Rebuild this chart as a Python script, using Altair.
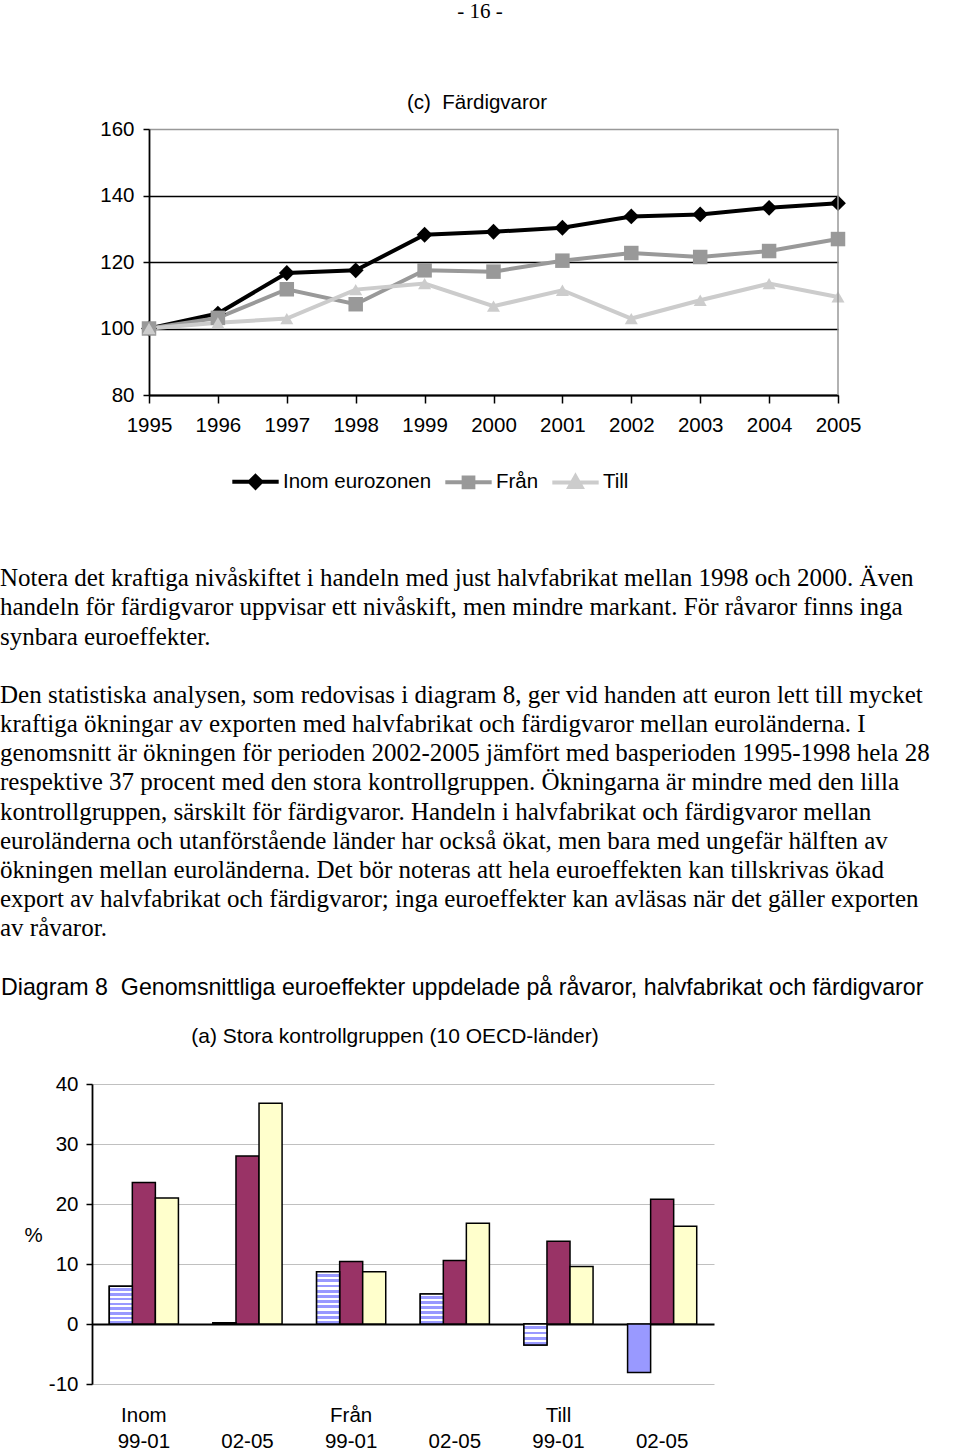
import altair as alt
import pandas as pd

SANS = "Liberation Sans"
SERIF = "Liberation Serif"

# ---------------- data: line chart (c) Färdigvaror ----------------
years = ["1995", "1996", "1997", "1998", "1999", "2000", "2001", "2002", "2003", "2004", "2005"]
inom = [100, 104.5, 116.7, 117.5, 128.2, 129.1, 130.3, 133.7, 134.3, 136.3, 137.7]
fran = [100, 103.2, 111.8, 107.3, 117.5, 117.1, 120.4, 122.7, 121.5, 123.3, 126.9]
till = [100, 101.7, 103.0, 111.7, 113.5, 106.7, 111.5, 103.0, 108.5, 113.5, 109.5]
series_names = ["Inom eurozonen", "Från", "Till"]
series_colors = ["#000000", "#999999", "#cccccc"]
series_shapes = ["diamond", "square", "triangle-up"]
series_sizes = [250, 170, 230]
legend_paths = [
    "M-1,0L1,0M0,-0.25L0.25,0L0,0.25L-0.25,0Z",
    "M-1,0L1,0M-0.21,-0.21L0.21,-0.21L0.21,0.21L-0.21,0.21Z",
    "M-1,0L1,0M0,-0.26L0.26,0.2L-0.26,0.2Z",
]
y_ticks_line = [80, 100, 120, 140, 160]

# ---------------- data: bar chart Diagram 8 (a) ----------------
groups = ["Inom|99-01", "Inom|02-05", "Från|99-01", "Från|02-05", "Till|99-01", "Till|02-05"]
kinds = ["Råvaror", "Halvfabrikat", "Färdigvaror"]
ravaror = [6.3, 0.2, 8.7, 5.0, -3.5, -8.1]
halvfabrikat = [23.6, 28.0, 10.4, 10.6, 13.8, 20.8]
fardigvaror = [21.0, 36.8, 8.7, 16.8, 9.6, 16.3]
ravaror_striped = [True, True, True, True, True, False]
kind_colors = ["#9999ff", "#993366", "#ffffcc"]
y_ticks_bar = [-10, 0, 10, 20, 30, 40]

# ---------------- texts ----------------
page_number = "- 16 -"
line_title = "(c)\u00a0 Färdigvaror"
para1 = [
    "Notera det kraftiga nivåskiftet i handeln med just halvfabrikat mellan 1998 och 2000. Även",
    "handeln för färdigvaror uppvisar ett nivåskift, men mindre markant. För råvaror finns inga",
    "synbara euroeffekter.",
]
para2 = [
    "Den statistiska analysen, som redovisas i diagram 8, ger vid handen att euron lett till mycket",
    "kraftiga ökningar av exporten med halvfabrikat och färdigvaror mellan euroländerna. I",
    "genomsnitt är ökningen för perioden 2002-2005 jämfört med basperioden 1995-1998 hela 28",
    "respektive 37 procent med den stora kontrollgruppen. Ökningarna är mindre med den lilla",
    "kontrollgruppen, särskilt för färdigvaror. Handeln i halvfabrikat och färdigvaror mellan",
    "euroländerna och utanförstående länder har också ökat, men bara med ungefär hälften av",
    "ökningen mellan euroländerna. Det bör noteras att hela euroeffekten kan tillskrivas ökad",
    "export av halvfabrikat och färdigvaror; inga euroeffekter kan avläsas när det gäller exporten",
    "av råvaror.",
]
diagram_title = "Diagram 8\u00a0 Genomsnittliga euroeffekter uppdelade på råvaror, halvfabrikat och färdigvaror"
bar_title = "(a) Stora kontrollgruppen (10 OECD-länder)"

# ================= line chart =================
line_rows = []
for name, vals in zip(series_names, [inom, fran, till]):
    for yr, v in zip(years, vals):
        line_rows.append({"series": name, "year": yr, "value": v})
line_df = pd.DataFrame(line_rows)

x_line_scale = alt.Scale(type="point", domain=years, range=[149, 838], padding=0)
y_line_scale = alt.Scale(domain=[80, 160], range=[395, 129], nice=False, zero=False)
x_line_axis = alt.Axis(orient="bottom", offset=-1055, title=None, labelAngle=0,
                       labelFont=SANS, labelFontSize=20.5, labelColor="black", labelPadding=12,
                       tickSize=8, tickColor="black", tickWidth=1.5,
                       domainColor="black", domainWidth=1.8, grid=False)
y_line_axis = alt.Axis(orient="left", offset=-149, title=None, values=y_ticks_line,
                       labelFont=SANS, labelFontSize=20.5, labelColor="black", labelPadding=9,
                       tickSize=6, tickColor="black", tickWidth=1.5,
                       domainColor="black", domainWidth=1.8, grid=True,
                       gridColor=alt.condition("datum.value === 160", alt.value("#999999"), alt.value("black")),
                       gridWidth=1.6)

X_line = alt.X("year:O", scale=x_line_scale, axis=x_line_axis)
Y_line = alt.Y("value:Q", scale=y_line_scale, axis=y_line_axis)
color_line = alt.Color("series:N", scale=alt.Scale(domain=series_names, range=series_colors), legend=None)

base_line = alt.Chart(line_df)
lines = base_line.mark_line(strokeWidth=4).encode(x=X_line, y=Y_line, color=color_line)
points = base_line.mark_point(filled=True, opacity=1).encode(
    x=X_line, y=Y_line, color=color_line,
    shape=alt.Shape("series:N", scale=alt.Scale(domain=series_names, range=series_shapes), legend=None),
    size=alt.Size("series:N", scale=alt.Scale(domain=series_names, range=series_sizes), legend=None),
)
frame = alt.Chart(alt.Data(values=[{"edge": "right"}])).mark_rule(color="#999999", strokeWidth=1.5).encode(
    x=alt.XDatum("2005", type="ordinal", scale=x_line_scale, axis=x_line_axis),
    y=alt.YDatum(80, scale=y_line_scale, axis=y_line_axis),
    y2=alt.Y2Datum(160),
)
line_chart = alt.layer(lines, points, frame)

# legend (only the legend is drawn from this layer)
legend_def = alt.Legend(orient="none", legendX=230, legendY=456, direction="horizontal", title=None,
                        labelFont=SANS, labelFontSize=20.5, labelColor="black", labelOffset=2,
                        symbolSize=2150, symbolStrokeWidth=4, columnPadding=5, padding=0)
legend_layer = alt.Chart(pd.DataFrame({"series": series_names})).transform_filter("false").mark_point(
    filled=True, size=2150, strokeWidth=4, opacity=1
).encode(
    fill=alt.Fill("series:N", scale=alt.Scale(domain=series_names, range=series_colors), legend=legend_def),
    stroke=alt.Stroke("series:N", scale=alt.Scale(domain=series_names, range=series_colors), legend=legend_def),
    shape=alt.Shape("series:N", scale=alt.Scale(domain=series_names, range=legend_paths), legend=legend_def),
)

# ================= bar chart =================
bar_rows = []
for gi, g in enumerate(groups):
    for k, vals in zip(kinds, [ravaror, halvfabrikat, fardigvaror]):
        striped = (k == kinds[0]) and ravaror_striped[gi]
        bar_rows.append({"group": g, "kind": k, "value": vals[gi], "striped": striped})
bar_df = pd.DataFrame(bar_rows)

x_bar_scale = alt.Scale(domain=groups, range=[92, 714], paddingInner=0.333, paddingOuter=0.1667)
x_bar_axis = alt.Axis(orient="bottom", offset=-66, title=None, labelAngle=0, domain=False, ticks=False,
                      tickSize=0, grid=False, labelFont=SANS, labelFontSize=20.5, labelColor="black",
                      labelPadding=21, labelLineHeight=26, labelBaseline="top",
                      labelExpr="split(datum.label,'|')[1] == '99-01' ? split(datum.label,'|') : ['', split(datum.label,'|')[1]]")
y_bar_scale = alt.Scale(domain=[-10, 40], range=[1384, 1084], nice=False, zero=False)
y_bar_axis = alt.Axis(orient="left", offset=-92, values=y_ticks_bar, title="%", titleAngle=0,
                      titleX=-59, titleY=1235, titleFont=SANS, titleFontSize=20.5, titleFontWeight="normal",
                      titleAlign="center", titleBaseline="middle", titleColor="black",
                      labelExpr="'' + datum.value",
                      labelFont=SANS, labelFontSize=20.5, labelColor="black", labelPadding=8,
                      tickSize=6, tickColor="black", tickWidth=1.5, domainColor="black", domainWidth=1.8,
                      grid=True,
                      gridColor=alt.condition("datum.value === 0", alt.value("black"), alt.value("#c0c0c0")),
                      gridWidth=alt.condition("datum.value === 0", alt.value(1.8), alt.value(1)))

X_bar = alt.X("group:N", scale=x_bar_scale, axis=x_bar_axis, sort=groups)
XO_bar = alt.XOffset("kind:N", scale=alt.Scale(domain=kinds, paddingInner=0, paddingOuter=0), sort=kinds)
Y_bar = alt.Y("value:Q", scale=y_bar_scale, axis=y_bar_axis)
Y2_bar = alt.Y2Datum(0)

base_bar = alt.Chart(bar_df)
bars = base_bar.mark_bar(stroke="black", strokeWidth=1.5).encode(
    x=X_bar, xOffset=XO_bar, y=Y_bar, y2=Y2_bar,
    color=alt.Color("kind:N", scale=alt.Scale(domain=kinds, range=kind_colors), legend=None),
)

bar_layers = [bars]
for r in bar_rows:
    if not r["striped"]:
        continue
    h = abs(r["value"]) * 6.0
    n = max(1, round(h / 5.0))
    stops = []
    for i in range(n):
        a, b, c = i / n, (i + 0.45) / n, (i + 1) / n
        stops += [alt.GradientStop(offset=a, color="#ffffff"), alt.GradientStop(offset=b, color="#ffffff"),
                  alt.GradientStop(offset=b, color=kind_colors[0]), alt.GradientStop(offset=c, color=kind_colors[0])]
    grad = alt.LinearGradient(gradient="linear", stops=stops, x1=0, x2=0, y1=0, y2=1)
    bar_layers.append(
        base_bar.transform_filter(f"datum.group == '{r['group']}' && datum.kind == '{r['kind']}'")
        .mark_bar(fill=grad, stroke="black", strokeWidth=1.5)
        .encode(x=X_bar, xOffset=XO_bar, y=Y_bar, y2=Y2_bar)
    )
bar_chart = alt.layer(*bar_layers)


# ================= text layers =================
def text_layer(content, x, y, font, size, align="left", line_height=None):
    mk = dict(align=align, baseline="alphabetic", font=font, fontSize=size, color="black")
    if line_height is not None:
        mk["lineHeight"] = line_height
    return alt.Chart(alt.Data(values=[{"t": content}])).mark_text(**mk).encode(
        text="t:N", x=alt.value(x), y=alt.value(y)
    )


texts = [
    text_layer(page_number, 480, 18, SERIF, 21, align="center"),
    text_layer(line_title, 477, 109, SANS, 20.5, align="center"),
    text_layer(para1, 0, 586, SERIF, 25, line_height=29.4),
    text_layer(para2, 0, 703, SERIF, 25, line_height=29.15),
    text_layer(diagram_title, 1, 995, SANS, 23.2),
    text_layer(bar_title, 395, 1043, SANS, 21, align="center"),
]

chart = (
    alt.layer(line_chart, legend_layer, bar_chart, *texts)
    .resolve_scale(x="independent", y="independent", color="independent", shape="independent",
                   fill="independent", stroke="independent", size="independent")
    .resolve_axis(x="independent", y="independent")
    .properties(width=960, height=1450, padding=0, autosize=alt.AutoSizeParams(type="none"),
                background="white")
    .configure_view(stroke=None)
)

chart.save("out.html", embed_options={"renderer": "svg", "actions": False})
